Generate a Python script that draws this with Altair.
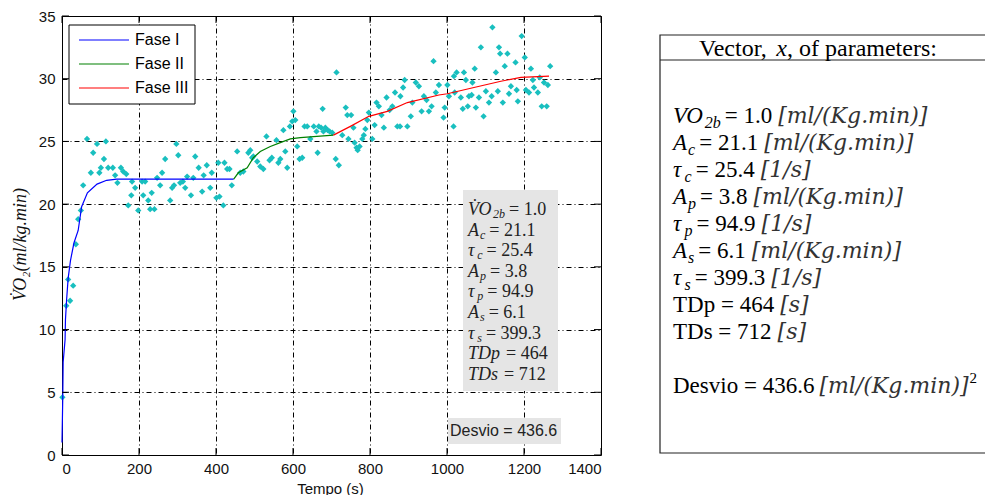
import altair as alt
import pandas as pd

# ---------------- data ----------------
obs_t = [1, 11, 16, 21, 29, 36, 42, 49, 55, 65, 75, 81, 91, 97, 101, 109, 114, 120, 132, 138,
         144, 153, 159, 167, 172, 180, 182, 190, 198, 208, 211, 216, 224, 229, 233, 240, 247, 255, 260, 268,
         281, 286, 291, 297, 302, 307, 314, 320, 325, 335, 341, 346, 355, 364, 368, 376, 385, 389, 401, 406,
         409, 419, 422, 429, 435, 441, 455, 463, 471, 484, 489, 494, 497, 507, 515, 523, 531, 539, 545, 557,
         562, 567, 575, 580, 585, 592, 598, 601, 606, 611, 617, 624, 630, 637, 645, 654, 661, 664, 667, 673,
         677, 679, 684, 690, 695, 702, 711, 713, 719, 728, 737, 741, 744, 751, 757, 760, 765, 768, 773, 780,
         784, 788, 793, 797, 806, 812, 817, 823, 830, 836, 843, 851, 858, 865, 871, 878, 879, 886, 890, 897,
         906, 910, 919, 927, 934, 940, 947, 953, 960, 965, 971, 979, 991, 994, 1001, 1005, 1017, 1018, 1020, 1025,
         1036, 1041, 1044, 1049, 1054, 1057, 1064, 1066, 1072, 1075, 1083, 1088, 1095, 1101, 1109, 1116, 1118, 1127, 1132, 1135,
         1138, 1145, 1150, 1157, 1161, 1166, 1178, 1181, 1184, 1194, 1202, 1205, 1213, 1218, 1223, 1226, 1236, 1241, 1246, 1252,
         1259, 1262, 1268]
obs_v = [4.6, 11.9, 14.0, 12.3, 13.5, 16.8, 18.8, 19.5, 21.5, 25.2, 22.5, 24.1, 24.8, 22.5, 22.9, 23.6, 25.0, 22.9, 22.9, 22.3,
         21.7, 22.9, 22.6, 22.4, 19.9, 20.7, 21.8, 21.3, 19.5, 21.8, 20.7, 21.8, 20.3, 19.6, 20.9, 19.6, 22.1, 21.5, 22.5, 23.6,
         20.3, 21.3, 21.5, 24.8, 23.9, 21.7, 21.8, 21.3, 22.2, 20.7, 22.1, 23.8, 22.9, 21.0, 22.3, 23.1, 21.3, 22.5, 20.5, 23.3,
         20.6, 19.9, 23.3, 22.8, 22.8, 21.5, 24.2, 22.5, 22.6, 24.1, 24.3, 23.7, 23.8, 23.4, 23.0, 22.8, 25.4, 23.5, 23.7, 25.1,
         23.3, 23.6, 25.9, 24.2, 22.9, 26.2, 26.6, 27.4, 26.7, 24.6, 23.6, 23.7, 26.2, 26.2, 25.2, 26.2, 25.8, 24.1, 26.2, 26.1,
         27.6, 25.8, 26.1, 25.9, 25.8, 25.7, 23.6, 30.5, 23.1, 25.5, 27.7, 27.1, 25.2, 27.1, 26.1, 24.9, 24.5, 24.3, 24.6, 25.2,
         25.5, 26.0, 26.7, 27.3, 25.2, 26.3, 28.1, 27.8, 27.1, 26.1, 28.5, 27.5, 27.8, 28.9, 26.2, 26.2, 28.6, 29.3, 29.9, 26.2,
         27.0, 28.1, 29.7, 29.4, 27.4, 28.6, 28.3, 27.4, 27.8, 31.4, 28.9, 29.5, 26.9, 27.7, 29.5, 28.6, 26.2, 30.2, 28.9, 30.5,
         28.5, 27.6, 30.5, 29.9, 27.8, 28.6, 28.7, 29.7, 30.8, 27.7, 28.5, 32.5, 27.0, 29.0, 28.1, 28.6, 34.1, 30.5, 29.0, 32.5,
         32.0, 28.1, 31.0, 32.0, 28.8, 29.4, 31.3, 29.1, 28.2, 33.4, 31.7, 29.1, 28.9, 30.8, 29.9, 29.3, 28.9, 30.1, 27.8, 29.7,
         27.8, 29.5, 31.0]

fase1_t = [0, 2, 3, 8, 9, 12, 16, 22, 31, 42, 51, 66, 91, 116, 142, 446]
fase1_v = [1.0, 4.6, 7.4, 9.2, 10.8, 12.4, 14.1, 15.5, 16.9, 17.9, 19.8, 20.9, 21.6, 21.9, 22.0, 22.0]
fase2_t = [446, 458, 481, 497, 515, 541, 567, 593, 619, 705]
fase2_v = [22.0, 22.5, 22.9, 23.7, 24.2, 24.6, 24.9, 25.2, 25.3, 25.5]
fase3_t = [705, 749, 797, 845, 897, 979, 1001, 1070, 1140, 1192, 1265]
fase3_v = [25.5, 26.2, 27.0, 27.4, 28.1, 28.7, 28.8, 29.3, 29.8, 30.1, 30.2]

fases = ["Fase I", "Fase II", "Fase III"]
fase_colors = ["#0000ff", "#008000", "#ff0000"]

x_ticks = [0, 200, 400, 600, 800, 1000, 1200, 1400]
y_ticks = [0, 5, 10, 15, 20, 25, 30, 35]

param_names = ["VO2b", "Ac", "tc", "Ap", "tp", "As", "ts", "TDp", "TDs"]
param_values = ["1.0", "21.1", "25.4", "3.8", "94.9", "6.1", "399.3", "464", "712"]
desvio = "436.6"

# ---------------- layout ----------------
W, H = 539, 439
OX, OY = 62, 16   # plot origin on the page

# approximate advance widths (per em) used only to place text pieces side by side
ROMAN = {' ': .25, '=': .564, '.': .25, ',': .25, ':': .278, 'T': .611, 'D': .722, 'p': .5, 's': .389,
         'e': .444, 'v': .5, 'i': .278, 'o': .5, 'f': .333, 'a': .444, 'r': .333, 'm': .778, 't': .278,
         'c': .444, 'V': .722, 'x': .5}
ITALIC = {'V': .611, 'O': .722, 'A': .611, 'c': .444, 'p': .5, 's': .389, 'b': .5, 'x': .444,
          'τ': .46, 'T': .556, 'D': .722, '\u0307': 0}
DEJA_IT = {'[': .39, ']': .39, 'm': .947, 'l': .32, '/': .337, '(': .39, ')': .39, 'K': .75, 'g': .64,
           '.': .318, 'i': .32, 'n': .644, '1': .636, 's': .513}


def width(s, size, table):
    return sum(table.get(ch, .5) for ch in s) * size


xscale = alt.Scale(domain=[0, 1400], nice=False, zero=False)
yscale = alt.Scale(domain=[0, 35], nice=False, zero=False)

obs = pd.DataFrame({"t": obs_t, "v": obs_v})
lines = pd.concat([
    pd.DataFrame({"t": fase1_t, "v": fase1_v, "fase": fases[0]}),
    pd.DataFrame({"t": fase2_t, "v": fase2_v, "fase": fases[1]}),
    pd.DataFrame({"t": fase3_t, "v": fase3_v, "fase": fases[2]}),
])

LBL = "#111111"
xaxis = alt.Axis(values=x_ticks, format="d", grid=True, gridColor="black", gridDash=[5, 3, 1, 3], gridWidth=1,
                 gridOpacity=1, ticks=False, domain=False, labelFont="Liberation Sans", labelFontSize=15,
                 labelColor=LBL, labelPadding=6, title="Tempo (s)", titleFont="Liberation Sans",
                 titleFontSize=15, titleFontWeight="normal", titleColor=LBL, titleX=268, titleY=33,
                 titleBaseline="middle", titleAlign="center")
yaxis = alt.Axis(values=y_ticks, format="d", grid=True, gridColor="black", gridDash=[5, 3, 1, 3], gridWidth=1,
                 gridOpacity=1, ticks=False, domain=False, labelFont="Liberation Sans", labelFontSize=15,
                 labelColor=LBL, labelPadding=7, title="V̇O₂(ml/kg.min)", titleFont="Liberation Serif",
                 titleFontSize=18, titleFontWeight="normal", titleFontStyle="italic", titleColor=LBL,
                 titleX=-42, titleY=228, titleAngle=270, titleBaseline="middle", titleAlign="center")

points = alt.Chart(obs).mark_point(shape="diamond", filled=True, size=40, color="#19bfbf", opacity=1).encode(
    x=alt.X("t:Q", scale=xscale, axis=xaxis),
    y=alt.Y("v:Q", scale=yscale, axis=yaxis),
)
curve = alt.Chart(lines).mark_line(strokeWidth=1.2).encode(
    x=alt.X("t:Q", scale=xscale),
    y=alt.Y("v:Q", scale=yscale),
    color=alt.Color("fase:N", scale=alt.Scale(domain=fases, range=fase_colors), legend=None),
)

xt = pd.DataFrame({"t": x_ticks})
yt = pd.DataFrame({"v": y_ticks})
ticks = [
    alt.Chart(xt).mark_rule(color="black").encode(x=alt.X("t:Q", scale=xscale), y=alt.value(H - 7), y2=alt.value(H)),
    alt.Chart(xt).mark_rule(color="black").encode(x=alt.X("t:Q", scale=xscale), y=alt.value(0), y2=alt.value(7)),
    alt.Chart(yt).mark_rule(color="black").encode(y=alt.Y("v:Q", scale=yscale), x=alt.value(0), x2=alt.value(7)),
    alt.Chart(yt).mark_rule(color="black").encode(y=alt.Y("v:Q", scale=yscale), x=alt.value(W - 7), x2=alt.value(W)),
]

one = pd.DataFrame({"k": [0]})


def rect(x1, y1, x2, y2, fill, stroke=None, sw=1):
    kw = dict(fill=fill)
    if stroke:
        kw.update(stroke=stroke, strokeWidth=sw)
    else:
        kw.update(strokeWidth=0)
    return alt.Chart(one).mark_rect(**kw).encode(
        x=alt.value(x1 - OX), x2=alt.value(x2 - OX), y=alt.value(y1 - OY), y2=alt.value(y2 - OY))


def txt(s, x, y, size, font="Liberation Serif", style="normal", color="black", baseline="alphabetic"):
    return alt.Chart(one).mark_text(font=font, fontSize=size, fontStyle=style, color=color,
                                    baseline=baseline, align="left").encode(
        x=alt.value(x - OX), y=alt.value(y - OY), text=alt.value(s))


def hline(x1, x2, y, color="black", sw=1):
    return alt.Chart(one).mark_rule(color=color, strokeWidth=sw).encode(
        x=alt.value(x1 - OX), x2=alt.value(x2 - OX), y=alt.value(y - OY))


layers = [points, curve] + ticks

# legend (inside the plot, top-left)
layers.append(rect(69, 25, 195, 104, "white", "black", 1))
for i, (f, c) in enumerate(zip(fases, fase_colors)):
    yy = 40 + 24 * i
    layers.append(hline(79, 129, yy, c, 1.2))
    layers.append(txt(f, 135, yy, 16, font="Liberation Sans", baseline="middle"))

sym = {"VO2b": ("VO", "2b"), "Ac": ("A", "c"), "tc": ("τ", "c"), "Ap": ("A", "p"), "tp": ("τ", "p"),
       "As": ("A", "s"), "ts": ("τ", "s")}

# gray box with parameters
GREY = "#e5e5e5"
TXT = "#222222"
layers.append(rect(463, 190, 558, 391, GREY))
GS, GSS = 18, 12
for i, (n, v) in enumerate(zip(param_names, param_values)):
    b = 215 + 20.6 * i
    x = 468
    if n in sym:
        name, sub = sym[n]
        if n == "VO2b":
            name = "V\u0307O"
        layers.append(txt(name, x, b, GS, style="italic", color=TXT))
        x += width(name, GS, ITALIC) + 1
        layers.append(txt(sub, x, b + 3, GSS, style="italic", color=TXT))
        x += width(sub, GSS, ITALIC) + 4
    else:
        layers.append(txt(n, x, b, GS, style="italic", color=TXT))
        x += width(n, GS, ITALIC) + 6
    layers.append(txt("= " + v, x, b, GS, color=TXT))

# Desvio box
layers.append(rect(448, 418, 561, 444, GREY))
layers.append(txt("Desvio = " + desvio, 450, 431, 16, font="Liberation Sans", baseline="middle", color=TXT))

# right panel
layers.append(rect(660, 35, 1010, 453, "white", "#222222", 1.2))
layers.append(hline(660, 1010, 60, "#222222", 1.2))
HS = 24
h1, h2, h3 = "Vector, ", "x", ", of parameters:"
hw = width(h1, HS, ROMAN) + width(h2, HS, ITALIC) + width(h3, HS, ROMAN)
hx = 818 - hw / 2
layers.append(txt(h1, hx, 56, HS))
hx += width(h1, HS, ROMAN)
layers.append(txt(h2, hx, 56, HS, style="italic"))
hx += width(h2, HS, ITALIC)
layers.append(txt(h3, hx, 56, HS))

UNIT = "[ml/(Kg.min)]"
units = {"VO2b": UNIT, "Ac": UNIT, "tc": "[1/s]", "Ap": UNIT, "tp": "[1/s]", "As": UNIT, "ts": "[1/s]",
         "TDp": "[s]", "TDs": "[s]"}
RS, RSS, US = 23, 16, 22
UCOL = "#333333"
for i, (n, v) in enumerate(zip(param_names, param_values)):
    b = 123 + 27 * i
    x = 673
    if n in sym:
        name, sub = sym[n]
        layers.append(txt(name, x, b, RS, style="italic"))
        x += width(name, RS, ITALIC) + 1
        layers.append(txt(sub, x, b + 5, RSS, style="italic"))
        x += width(sub, RSS, ITALIC) + 4
        s = "= " + v
    else:
        s = n + " = " + v
    layers.append(txt(s, x, b, RS))
    x += width(s, RS, ROMAN) + 6
    layers.append(txt(units[n], x, b, US, font="DejaVu Serif", style="italic", color=UCOL))

b = 123 + 27 * 10
s = "Desvio = " + desvio
layers.append(txt(s, 673, b, RS))
x = 673 + width(s, RS, ROMAN) + 5
layers.append(txt(UNIT, x, b, US, font="DejaVu Serif", style="italic", color=UCOL))
x += width(UNIT, US, DEJA_IT) + 1
layers.append(txt("2", x, b - 10, 15))

chart = alt.layer(*layers).properties(
    width=W, height=H,
    autosize=alt.AutoSizeParams(type="none"),
    padding={"left": OX - 8, "top": OY - 8, "right": 993 - 16 - (OX - 8) - W, "bottom": 503 - 16 - (OY - 8) - H},
    background="white",
).configure_view(stroke="black", strokeWidth=1)

chart.save("out.html", embed_options={"renderer": "svg", "actions": False})
